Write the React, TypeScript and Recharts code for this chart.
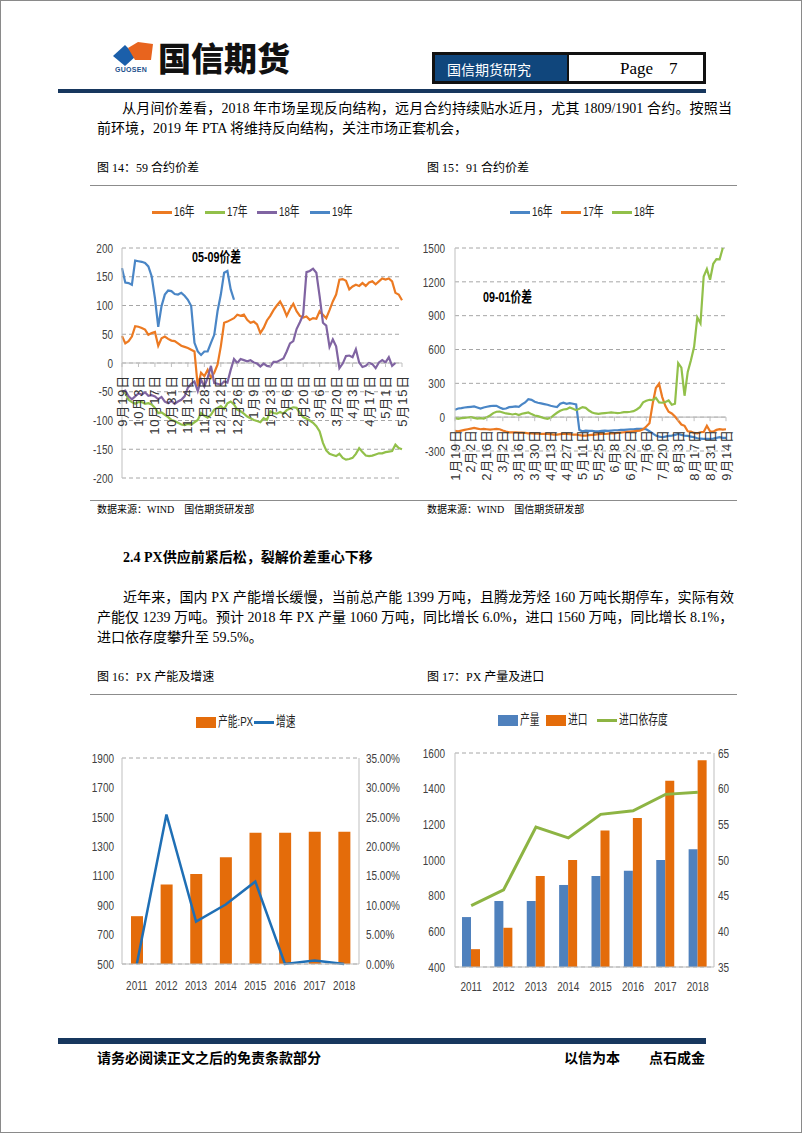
import React from 'react';
import { LineChart, Line, XAxis, YAxis, CartesianGrid, ReferenceLine, ComposedChart, Bar } from 'recharts';

// 图14：59合约价差，每两个交易日取一点
const spread59Dates = ['9月19日', '10月3日', '10月17日', '10月31日', '11月14日', '11月28日', '12月12日', '12月26日', '1月9日', '1月23日', '2月6日', '2月20日', '3月6日', '3月20日', '4月3日', '4月17日', '5月1日', '5月15日'];
const spread59Ticks = [-200, -150, -100, -50, 0, 50, 100, 150, 200];
const spread59Y16 = [47, 34, 38, 46, 64, 63, 61, 58, 49, 52, 54, 30, 43, 46, 42, 39, 38, 34, 30, 28, 26, 23, 20, -41, -17, -23, -12, -26, -17, -3, 29, 70, 72, 75, 78, 84, 82, 84, 75, 70, 72, 67, 52, 61, 74, 82, 92, 100, 107, 96, 82, 94, 103, 90, 82, 79, 81, 75, 78, 77, 90, 84, 78, 92, 107, 119, 145, 146, 143, 128, 133, 136, 134, 139, 134, 140, 142, 137, 142, 147, 145, 147, 142, 122, 119, 109];
const spread59Y17 = [-50, -52, -64, -68, -71, -68, -68, -71, -70, -72, -78, -87, -86, -90, -94, -99, -101, -104, -107, -108, -106, -107, -103, -99, -87, -92, -95, -90, -81, -78, -75, -80, -70, -67, -72, -81, -84, -88, -93, -96, -99, -101, -103, -96, -99, -84, -87, -88, -85, -88, -82, -79, -77, -78, -87, -94, -97, -100, -104, -110, -119, -139, -152, -158, -160, -162, -158, -165, -168, -167, -165, -158, -148, -155, -161, -162, -161, -159, -157, -157, -155, -154, -153, -142, -148, -150];
const spread59Y18 = [-50, -48, -58, -63, -58, -53, -55, -51, -57, -56, -58, -63, -59, -67, -70, -66, -71, -67, -64, -58, -43, -36, -32, -49, -29, -41, -26, -5, -35, -36, -38, -32, -34, -12, 7, 0, 7, 5, 3, 5, 1, -1, -6, -1, -5, -6, 2, 2, 5, 8, 20, 34, 38, 59, 71, 84, 158, 160, 164, 157, 116, 70, 65, 28, 41, 29, -9, -1, 12, 13, 10, 24, 1, -7, -5, 0, -2, -9, 1, 5, 1, 10, -5, 0];
const spread59Y19 = [165, 140, 139, 136, 178, 177, 176, 174, 168, 151, 113, 63, 99, 119, 126, 125, 120, 119, 122, 117, 110, 99, 35, 20, 14, 20, 20, 35, 49, 90, 119, 157, 160, 128, 110];

// 图15：91合约价差
const spread91Dates = ['1月19日', '2月2日', '2月16日', '3月2日', '3月16日', '3月30日', '4月13日', '4月27日', '5月11日', '5月25日', '6月8日', '6月22日', '7月6日', '7月20日', '8月3日', '8月17日', '8月31日', '9月14日'];
const spread91Ticks = [-300, 0, 300, 600, 900, 1200, 1500];
const spread91Y16 = [65, 77, 80, 86, 89, 92, 95, 86, 77, 86, 92, 98, 101, 101, 86, 74, 77, 89, 92, 95, 92, 113, 131, 160, 154, 137, 128, 122, 116, 110, 101, 95, 89, 119, 128, 119, 125, 119, 113, -113, -125, -119, -122, -122, -125, -125, -122, -119, -122, -119, -116, -116, -113, -113, -110, -107, -107, -104, -104, -104, -107, -125, -143, -163, -172, -178, -172, -166, -163, -157, -149, -157, -163, -166, -172, -178, -187, -190, -193, -193, -193, -190, -184, -178, -184, -184];
const spread91Y17 = [-122, -125, -119, -113, -107, -101, -95, -101, -107, -104, -107, -110, -107, -104, -107, -119, -128, -134, -134, -134, -137, -137, -140, -143, -143, -146, -146, -149, -149, -149, -151, -154, -154, -151, -149, -149, -151, -154, -154, -160, -163, -163, -160, -157, -154, -151, -149, -149, -146, -143, -143, -140, -137, -134, -131, -128, -125, -122, -119, -107, -83, -53, 119, 258, 297, 178, 98, 48, 33, 6, -30, -65, -77, -125, -128, -140, -143, -134, -131, -77, -125, -128, -113, -107, -110, -107];
const spread91Y18 = [-9, -15, -9, -6, -3, 0, -6, -12, -9, -12, 0, 15, 36, 48, 50, 42, 33, 30, 24, 30, 18, 30, 36, 42, 27, 15, 9, 0, -9, -15, -6, 18, 39, 56, 68, 71, 86, 74, 62, 74, 89, 83, 59, 42, 33, 30, 33, 36, 39, 42, 39, 36, 39, 45, 45, 48, 53, 68, 89, 131, 146, 154, 151, 172, 131, 128, 134, 148, 110, 119, 480, 440, 190, 401, 505, 624, 885, 832, 1247, 1313, 1218, 1360, 1402, 1400, 1500];

// 图16 / 图17
const years = ['2011', '2012', '2013', '2014', '2015', '2016', '2017', '2018'];
const pxCapacity = [825, 1040, 1112, 1225, 1392, 1392, 1399, 1399];
const pxGrowth = [0, 0.254, 0.072, 0.101, 0.14, 0, 0.006, 0];
const capTicks = [500, 700, 900, 1100, 1300, 1500, 1700, 1900];
const growthTicks = [0, 0.05, 0.1, 0.15, 0.2, 0.25, 0.3, 0.35];
const pxOutput = [680, 770, 770, 860, 910, 940, 1000, 1060];
const pxImport = [500, 620, 910, 1000, 1165, 1235, 1445, 1560];
const pxDependence = [43.6, 45.8, 54.6, 53.1, 56.4, 56.9, 59.2, 59.5];
const volTicks = [400, 600, 800, 1000, 1200, 1400, 1600];
const depTicks = [35, 40, 45, 50, 55, 60, 65];

const SANS = "'Liberation Sans', 'Noto Sans CJK SC', sans-serif";
const CJK = "'Noto Sans CJK SC', sans-serif";
const BODY = "'Liberation Serif', 'Noto Sans CJK SC', serif";

const ORANGE = '#EC7A22';
const GREEN = '#92C04A';
const PURPLE = '#8064A2';
const BLUE = '#4A86C6';
const BAR_ORANGE = '#E46C0A';
const BAR_BLUE = '#4F81BD';
const GROWTH_BLUE = '#1F6FB5';
const DEP_GREEN = '#8DB443';
const GRID = '#A6A6A6';
const AXIS = '#BFBFBF';
const INK = '#404040';
const NAVY = '#17375E';

const STEP = 5; // 每个刻度间隔 5 个采样点

const series59 = [
  { key: 'y16', name: '16年', color: ORANGE, data: spread59Y16 },
  { key: 'y17', name: '17年', color: GREEN, data: spread59Y17 },
  { key: 'y18', name: '18年', color: PURPLE, data: spread59Y18 },
  { key: 'y19', name: '19年', color: BLUE, data: spread59Y19 },
];
const series91 = [
  { key: 'y16', name: '16年', color: BLUE, data: spread91Y16 },
  { key: 'y17', name: '17年', color: ORANGE, data: spread91Y17 },
  { key: 'y18', name: '18年', color: GREEN, data: spread91Y18 },
];

const toRows = (series: { key: string; data: number[] }[], n: number) =>
  Array.from({ length: n }, (_, i) => {
    const row: Record<string, number | null> = { i };
    series.forEach((s) => { row[s.key] = i < s.data.length ? s.data[i] : null; });
    return row;
  });

const n59 = (spread59Dates.length - 1) * STEP + 1;
const n91 = (spread91Dates.length - 1) * STEP + 1;
const rows59 = toRows(series59, n59);
const rows91 = toRows(series91, n91);
const tickIdx59 = spread59Dates.map((_, k) => k * STEP);
const tickIdx91 = spread91Dates.map((_, k) => k * STEP);

const barRows16 = years.map((y, i) => ({ year: y, cap: pxCapacity[i], growth: pxGrowth[i] }));
const barRows17 = years.map((y, i) => ({ year: y, out: pxOutput[i], imp: pxImport[i], dep: pxDependence[i] }));

// 日期标签画在零轴下方
const makeDateTick = (labels: string[], lift: number) => (props: any) => {
  const { x, y, payload } = props;
  return (
    <g transform={`translate(${x},${y - lift})`}>
      <line x1={0} y1={0} x2={0} y2={4} stroke={AXIS} />
      <text transform="rotate(-90)" x={-12} y={0} textAnchor="end" dominantBaseline="central"
        fontSize={13} fill="#333" fontFamily={SANS} letterSpacing={0.8}>
        {labels[Math.round(payload.value / STEP)]}
      </text>
    </g>
  );
};

// 原图字体偏窄，横向压缩
const makeNumTick = (anchor: 'start' | 'middle' | 'end', dy: string, fmt = (v: any) => String(v)) => (props: any) => {
  const { x, y, payload } = props;
  return (
    <g transform={`translate(${x},${y}) scale(0.74,1)`}>
      <text x={0} y={0} dy={dy} textAnchor={anchor} fontSize={13.5} fill={INK} fontFamily={SANS}>{fmt(payload.value)}</text>
    </g>
  );
};
const leftTick = makeNumTick('end', '0.35em');
const rightTick = makeNumTick('start', '0.35em');
const pctTick = makeNumTick('start', '0.35em', (v: number) => `${(v * 100).toFixed(2)}%`);
const catTick = makeNumTick('middle', '0.71em');

const Txt = ({ left, cy, size = 14, bold = false, font = BODY, color = '#000', width, justify = false, children }: any) => (
  <div style={{
    position: 'absolute', left, top: cy - size * 0.75, height: size * 1.5, lineHeight: `${size * 1.5}px`,
    fontSize: size, fontWeight: bold ? 700 : 400, fontFamily: font, color, whiteSpace: 'nowrap',
    width, textAlign: justify ? 'justify' : 'left', textAlignLast: justify ? 'justify' : 'auto',
  }}>{children}</div>
);

const HLine = ({ x1, x2, y, color = '#8c8c8c', h = 1 }: any) => (
  <div style={{ position: 'absolute', left: x1, top: y, width: x2 - x1, height: h, background: color }} />
);

type LegendItem = { label: string; color: string; kind: 'line' | 'box'; left: number };
const LegendRow = ({ items, cy }: { items: LegendItem[]; cy: number }) => (
  <>
    {items.map((it) => (
      <React.Fragment key={it.label}>
        <div style={{
          position: 'absolute', left: it.left, top: cy - (it.kind === 'line' ? 1.5 : 5.5),
          width: 20, height: it.kind === 'line' ? 3 : 11, background: it.color,
        }} />
        <div style={{
          position: 'absolute', left: it.left + 22, top: cy - 9, lineHeight: '18px', fontSize: 13.5,
          fontFamily: SANS, color: '#222', transform: 'scaleX(0.72)', transformOrigin: 'left center', whiteSpace: 'nowrap',
        }}>{it.label}</div>
      </React.Fragment>
    ))}
  </>
);

const Note = ({ left, cy, children }: any) => (
  <div style={{
    position: 'absolute', left, top: cy - 9, lineHeight: '18px', fontSize: 14.5, fontWeight: 700,
    fontFamily: SANS, color: '#000', transform: 'scaleX(0.74)', transformOrigin: 'left center', whiteSpace: 'nowrap',
  }}>{children}</div>
);

// 折线图尺寸
const L1 = { w: 320, h: 300, top: 53, bottom: 16, yMin: -200, yMax: 200 };
const L2 = { w: 320, h: 300, top: 53, bottom: 43, yMin: -300, yMax: 1500 };
const liftOf = (c: typeof L1) => ((c.h - c.top - c.bottom - 1) * (0 - c.yMin)) / (c.yMax - c.yMin);

export default function App() {
  return (
    <div style={{ position: 'absolute', left: 0, top: 0, width: 802, height: 1133, background: '#fff', overflow: 'hidden', fontFamily: BODY }}>
      <div style={{ position: 'absolute', inset: 0, border: '1px solid #8a8a8a' }} />

      {/* 页眉 */}
      <svg style={{ position: 'absolute', left: 108, top: 38 }} width={50} height={32}>
        <polygon points="5,18 17,7 28,18 17,28" fill="#1B5FAA" />
        <polygon points="20,10 30,4 45,6 43,22 27,22" fill="#E8641E" />
      </svg>
      <div style={{ position: 'absolute', left: 115, top: 66, fontSize: 7, fontWeight: 700, fontFamily: SANS, color: '#1B4F8C', letterSpacing: 0.3 }}>GUOSEN</div>
      <div style={{ position: 'absolute', left: 158, top: 39, fontSize: 33, lineHeight: '37px', fontWeight: 900, fontFamily: CJK, color: '#111' }}>国信期货</div>

      <div style={{ position: 'absolute', left: 432, top: 52, width: 274, height: 32, background: '#111' }} />
      <div style={{ position: 'absolute', left: 435, top: 55, width: 132, height: 26, background: '#10467C' }} />
      <div style={{ position: 'absolute', left: 569, top: 55, width: 134, height: 26, background: '#fff' }} />
      <Txt left={447} cy={69} size={14} font={CJK} color="#fff">国信期货研究</Txt>
      <Txt left={620} cy={69} size={17}>Page</Txt>
      <Txt left={669} cy={69} size={17}>7</Txt>
      <HLine x1={58} x2={706} y={89} h={4} color={NAVY} />

      {/* 正文 */}
      <Txt left={122} cy={108} width={610} justify>从月间价差看，2018 年市场呈现反向结构，远月合约持续贴水近月，尤其 1809/1901 合约。按照当</Txt>
      <Txt left={97} cy={128}>前环境，2019 年 PTA 将维持反向结构，关注市场正套机会，</Txt>

      <Txt left={97} cy={168} size={12}>图 14：59 合约价差</Txt>
      <Txt left={427} cy={168} size={12}>图 15：91 合约价差</Txt>
      <HLine x1={90} x2={737} y={185} />

      {/* 图14 */}
      <LegendRow cy={212} items={series59.map((s, i) => ({ label: s.name, color: s.color, kind: 'line' as const, left: [152, 205, 257, 310][i] }))} />
      <div style={{ position: 'absolute', left: 90, top: 195 }}>
        <LineChart width={L1.w} height={L1.h} data={rows59} margin={{ top: L1.top, right: 8, bottom: L1.bottom, left: 0 }}>
          <CartesianGrid vertical={false} stroke={GRID} strokeDasharray="4 3" />
          <XAxis type="number" dataKey="i" domain={[0, n59 - 1]} ticks={tickIdx59} interval={0} height={1}
            axisLine={false} tickLine={false} tickSize={0} tickMargin={0} tick={makeDateTick(spread59Dates, liftOf(L1))} />
          <YAxis domain={[L1.yMin, L1.yMax]} ticks={spread59Ticks} interval={0} width={32} axisLine={{ stroke: AXIS }}
            tickLine={false} tickSize={0} tickMargin={9} tick={leftTick} />
          <ReferenceLine y={0} stroke={AXIS} strokeWidth={1.2} />
          {series59.map((s) => (
            <Line key={s.key} dataKey={s.key} stroke={s.color} strokeWidth={2.2} dot={false} isAnimationActive={false} />
          ))}
        </LineChart>
      </div>
      <Note left={192} cy={257}>05-09价差</Note>

      {/* 图15 */}
      <LegendRow cy={212} items={series91.map((s, i) => ({ label: s.name, color: s.color, kind: 'line' as const, left: [510, 561, 612][i] }))} />
      <div style={{ position: 'absolute', left: 420, top: 195 }}>
        <LineChart width={L2.w} height={L2.h} data={rows91} margin={{ top: L2.top, right: 14, bottom: L2.bottom, left: 0 }}>
          <CartesianGrid vertical={false} stroke={GRID} strokeDasharray="4 3" />
          <XAxis type="number" dataKey="i" domain={[0, n91 - 1]} ticks={tickIdx91} interval={0} height={1}
            axisLine={false} tickLine={false} tickSize={0} tickMargin={0} tick={makeDateTick(spread91Dates, liftOf(L2))} />
          <YAxis domain={[L2.yMin, L2.yMax]} ticks={spread91Ticks} interval={0} width={35} axisLine={{ stroke: AXIS }}
            tickLine={false} tickSize={0} tickMargin={10} tick={leftTick} />
          <ReferenceLine y={0} stroke={AXIS} strokeWidth={1.2} />
          {series91.map((s) => (
            <Line key={s.key} dataKey={s.key} stroke={s.color} strokeWidth={2.2} dot={false} isAnimationActive={false} />
          ))}
        </LineChart>
      </div>
      <Note left={483} cy={297}>09-01价差</Note>

      <HLine x1={90} x2={737} y={500} />
      <Txt left={97} cy={509} size={10}>数据来源：WIND　国信期货研发部</Txt>
      <Txt left={427} cy={509} size={10}>数据来源：WIND　国信期货研发部</Txt>

      <Txt left={123} cy={557} bold>2.4 PX供应前紧后松，裂解价差重心下移</Txt>
      <Txt left={123} cy={597.5} width={611} justify>近年来，国内 PX 产能增长缓慢，当前总产能 1399 万吨，且腾龙芳烃 160 万吨长期停车，实际有效</Txt>
      <Txt left={97} cy={617.5}>产能仅 1239 万吨。预计 2018 年 PX 产量 1060 万吨，同比增长 6.0%，进口 1560 万吨，同比增长 8.1%，</Txt>
      <Txt left={97} cy={637.5}>进口依存度攀升至 59.5%。</Txt>

      <Txt left={97} cy={677} size={12}>图 16：PX 产能及增速</Txt>
      <Txt left={427} cy={677} size={12}>图 17：PX 产量及进口</Txt>
      <HLine x1={90} x2={737} y={694} />

      {/* 图16 */}
      <LegendRow cy={722} items={[
        { label: '产能:PX', color: BAR_ORANGE, kind: 'box', left: 196 },
        { label: '增速', color: GROWTH_BLUE, kind: 'line', left: 254 },
      ]} />
      <div style={{ position: 'absolute', left: 90, top: 740 }}>
        <ComposedChart width={320} height={260} data={barRows16} margin={{ top: 18, right: 0, bottom: 6, left: 0 }}>
          <CartesianGrid vertical={false} stroke={GRID} strokeDasharray="4 3" />
          <XAxis dataKey="year" height={30} axisLine={{ stroke: AXIS }} tickLine={false} tickSize={0} tickMargin={16} interval={0} tick={catTick} />
          <YAxis yAxisId="l" domain={[500, 1900]} ticks={capTicks} interval={0} width={32} axisLine={{ stroke: AXIS }}
            tickLine={false} tickSize={0} tickMargin={8} tick={leftTick} />
          <YAxis yAxisId="r" orientation="right" domain={[0, 0.35]} ticks={growthTicks} interval={0} width={51}
            axisLine={{ stroke: AXIS }} tickLine={false} tickSize={0} tickMargin={7} tick={pctTick} />
          <Bar yAxisId="l" dataKey="cap" fill={BAR_ORANGE} barSize={12} isAnimationActive={false} />
          <Line yAxisId="r" dataKey="growth" stroke={GROWTH_BLUE} strokeWidth={2.5} dot={false} isAnimationActive={false} />
        </ComposedChart>
      </div>

      {/* 图17 */}
      <LegendRow cy={720} items={[
        { label: '产量', color: BAR_BLUE, kind: 'box', left: 498 },
        { label: '进口', color: BAR_ORANGE, kind: 'box', left: 546 },
        { label: '进口依存度', color: DEP_GREEN, kind: 'line', left: 597 },
      ]} />
      <div style={{ position: 'absolute', left: 420, top: 740 }}>
        <ComposedChart width={320} height={260} data={barRows17} margin={{ top: 13, right: 0, bottom: 3, left: 0 }} barGap={0}>
          <CartesianGrid vertical={false} stroke={GRID} strokeDasharray="4 3" />
          <XAxis dataKey="year" height={30} axisLine={{ stroke: AXIS }} tickLine={false} tickSize={0} tickMargin={14} interval={0} tick={catTick} />
          <YAxis yAxisId="l" domain={[400, 1600]} ticks={volTicks} interval={0} width={35} axisLine={{ stroke: AXIS }}
            tickLine={false} tickSize={0} tickMargin={10} tick={leftTick} />
          <YAxis yAxisId="r" orientation="right" domain={[35, 65]} ticks={depTicks} interval={0} width={26}
            axisLine={{ stroke: AXIS }} tickLine={false} tickSize={0} tickMargin={4} tick={rightTick} />
          <Bar yAxisId="l" dataKey="out" fill={BAR_BLUE} barSize={9} isAnimationActive={false} />
          <Bar yAxisId="l" dataKey="imp" fill={BAR_ORANGE} barSize={9} isAnimationActive={false} />
          <Line yAxisId="r" dataKey="dep" stroke={DEP_GREEN} strokeWidth={3} dot={false} isAnimationActive={false} />
        </ComposedChart>
      </div>

      {/* 页脚 */}
      <HLine x1={58} x2={706} y={1038} h={6} color={NAVY} />
      <Txt left={97} cy={1057} bold font={CJK}>请务必阅读正文之后的免责条款部分</Txt>
      <Txt left={564} cy={1057} bold font={CJK}>以信为本</Txt>
      <Txt left={649} cy={1057} bold font={CJK}>点石成金</Txt>
    </div>
  );
}
